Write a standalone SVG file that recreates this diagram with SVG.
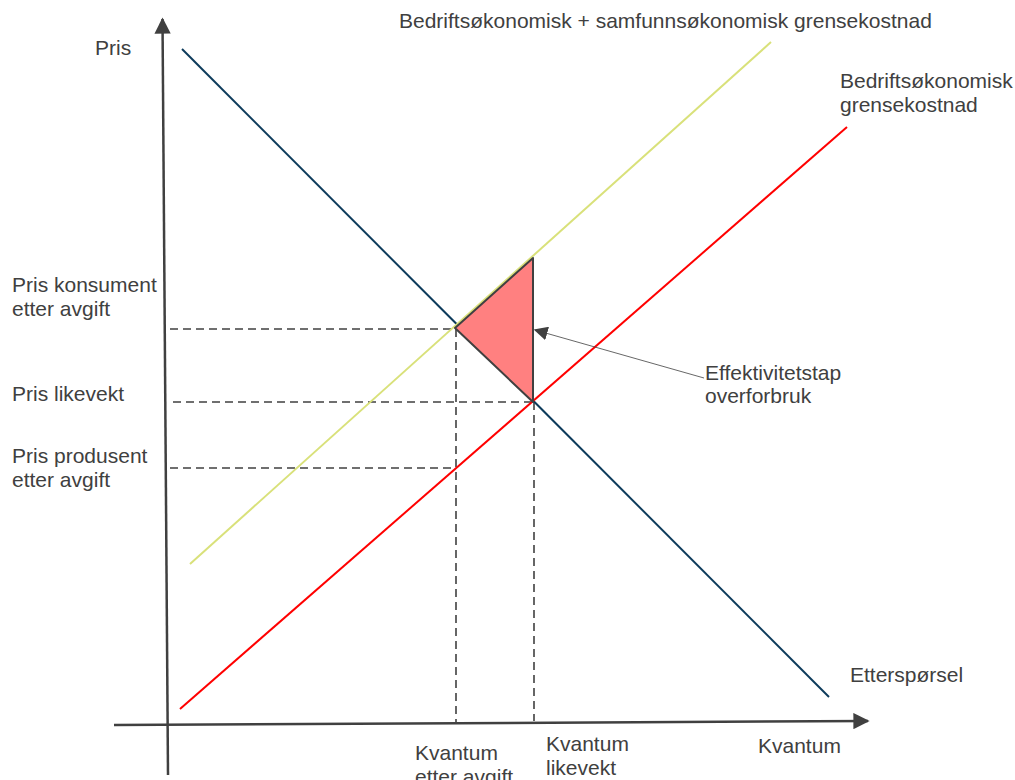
<svg xmlns="http://www.w3.org/2000/svg" width="1015" height="780" viewBox="0 0 1015 780">
  <style>
    text { font-family: "Liberation Sans", Arial, sans-serif; font-size: 21px; fill: #404040; }
    .axis { stroke: #404040; stroke-width: 2.5; fill: none; }
    .dash { stroke: #404040; stroke-width: 1.6; stroke-dasharray: 8 5; fill: none; }
    .curve { stroke-width: 2; fill: none; }
  </style>
  <defs>
    <marker id="axhead" viewBox="0 0 10 10" refX="9" refY="5" markerWidth="6.5" markerHeight="6.5" markerUnits="strokeWidth" orient="auto">
      <path d="M0,0 L10,5 L0,10 Z" fill="#404040"/>
    </marker>
    <marker id="ptrhead" viewBox="0 0 10 10" refX="9" refY="5" markerWidth="14" markerHeight="14" markerUnits="userSpaceOnUse" orient="auto">
      <path d="M0,0 L10,5 L0,10 Z" fill="#404040"/>
    </marker>
  </defs>

  <g id="connectors">
    <line class="axis" x1="168" y1="775" x2="162.5" y2="19" marker-end="url(#axhead)"/>
    <line class="axis" x1="114" y1="725" x2="868" y2="721" marker-end="url(#axhead)"/>
    <line class="dash" x1="170" y1="329" x2="456" y2="329"/>
    <line class="dash" x1="173" y1="402" x2="533" y2="402"/>
    <line class="dash" x1="170" y1="468" x2="456" y2="468"/>
    <line class="dash" x1="456" y1="329" x2="456" y2="722"/>
    <line class="dash" x1="534" y1="402" x2="534" y2="721"/>
    <line id="demand" class="curve" stroke="#0d3b5b" x1="182" y1="49" x2="829" y2="697"/>
    <line id="mc-total" class="curve" stroke="#d9e17a" x1="190" y1="564" x2="771" y2="42"/>
    <line id="mc-firm" class="curve" stroke="#ff0000" x1="180" y1="709" x2="847" y2="127"/>
    <line id="pointer" stroke="#404040" stroke-width="0.8" x1="704" y1="378" x2="535" y2="330" marker-end="url(#ptrhead)"/>
  </g>

  <g id="deadweight">
    <polygon points="455,328 533,258 533,402" fill="#ff8080" stroke="#404040" stroke-width="2" stroke-linejoin="round"/>
  </g>

  <g id="label-pris"><text x="95" y="55">Pris</text></g>
  <g id="label-total"><text x="399" y="28">Bedriftsøkonomisk + samfunnsøkonomisk grensekostnad</text></g>
  <g id="label-firm"><text x="840" y="88">Bedriftsøkonomisk</text><text x="840" y="112">grensekostnad</text></g>
  <g id="label-pk"><text x="12" y="292">Pris konsument</text><text x="12" y="316">etter avgift</text></g>
  <g id="label-pl"><text x="12" y="401">Pris likevekt</text></g>
  <g id="label-pp"><text x="12" y="463">Pris produsent</text><text x="12" y="487">etter avgift</text></g>
  <g id="label-eff"><text x="705" y="380">Effektivitetstap</text><text x="705" y="403">overforbruk</text></g>
  <g id="label-demand"><text x="850" y="682">Etterspørsel</text></g>
  <g id="label-qt"><text x="415" y="760">Kvantum</text><text x="415" y="784">etter avgift</text></g>
  <g id="label-qe"><text x="546" y="751">Kvantum</text><text x="546" y="775">likevekt</text></g>
  <g id="label-q"><text x="758" y="753">Kvantum</text></g>
</svg>
